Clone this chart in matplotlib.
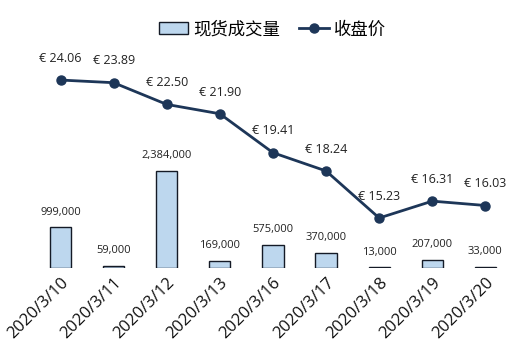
import numpy as np
import matplotlib.pyplot as plt

plt.rcParams['font.family'] = ['Open Sans', 'Noto Sans CJK SC', 'DejaVu Sans']

dates = ['2020/3/10', '2020/3/11', '2020/3/12', '2020/3/13', '2020/3/16',
         '2020/3/17', '2020/3/18', '2020/3/19', '2020/3/20']
volume = [999000, 59000, 2384000, 169000, 575000, 370000, 13000, 207000, 33000]
price = [24.06, 23.89, 22.50, 21.90, 19.41, 18.24, 15.23, 16.31, 16.03]

bar_color = '#bdd7ee'
line_color = '#1d3658'

fig = plt.figure(figsize=(5.29, 3.58), dpi=100)
ax = fig.add_axes([0.06, 0.2514, 0.912, 0.6926])
ax2 = ax.twinx()

x = np.arange(len(dates))
ax.bar(x, volume, width=0.4, color=bar_color, edgecolor='#141a26',
       linewidth=1.0, label='现货成交量')
for xi, v in zip(x, volume):
    ax.annotate(f'{v:,}', (xi, v), xytext=(0, 7), textcoords='offset points',
                ha='center', va='bottom', fontsize=8, color='#222222')

ax2.plot(x, price, color=line_color, linewidth=2, marker='o', markersize=6.5,
         label='收盘价')
for xi, p in zip(x, price):
    ax2.annotate(f'€ {p:.2f}', (xi, p), xytext=(0, 11), textcoords='offset points',
                 ha='center', va='bottom', fontsize=9, color='#222222')

ax.set_xlim(-0.542, 8.542)
ax.set_ylim(0, 6.095e6)
ax2.set_ylim(12.03, 27.9)

ax.set_xticks(x)
ax.set_xticklabels(dates, rotation=45, ha='right', rotation_mode='anchor',
                   fontsize=12, color='#111111')
ax.tick_params(axis='x', length=0, pad=5)
ax.set_yticks([])
ax2.set_yticks([])
for a in (ax, ax2):
    for s in a.spines.values():
        s.set_visible(False)

h1, l1 = ax.get_legend_handles_labels()
h2, l2 = ax2.get_legend_handles_labels()
fig.legend(h1 + h2, l1 + l2, loc='center', bbox_to_anchor=(0.515, 0.918),
           ncol=2, frameon=False, handlelength=1.7,
           handletextpad=0.3, columnspacing=1.1,
           prop={'family': ['Noto Sans CJK SC'], 'size': 12.5})

fig.savefig('out.png', dpi=100)
